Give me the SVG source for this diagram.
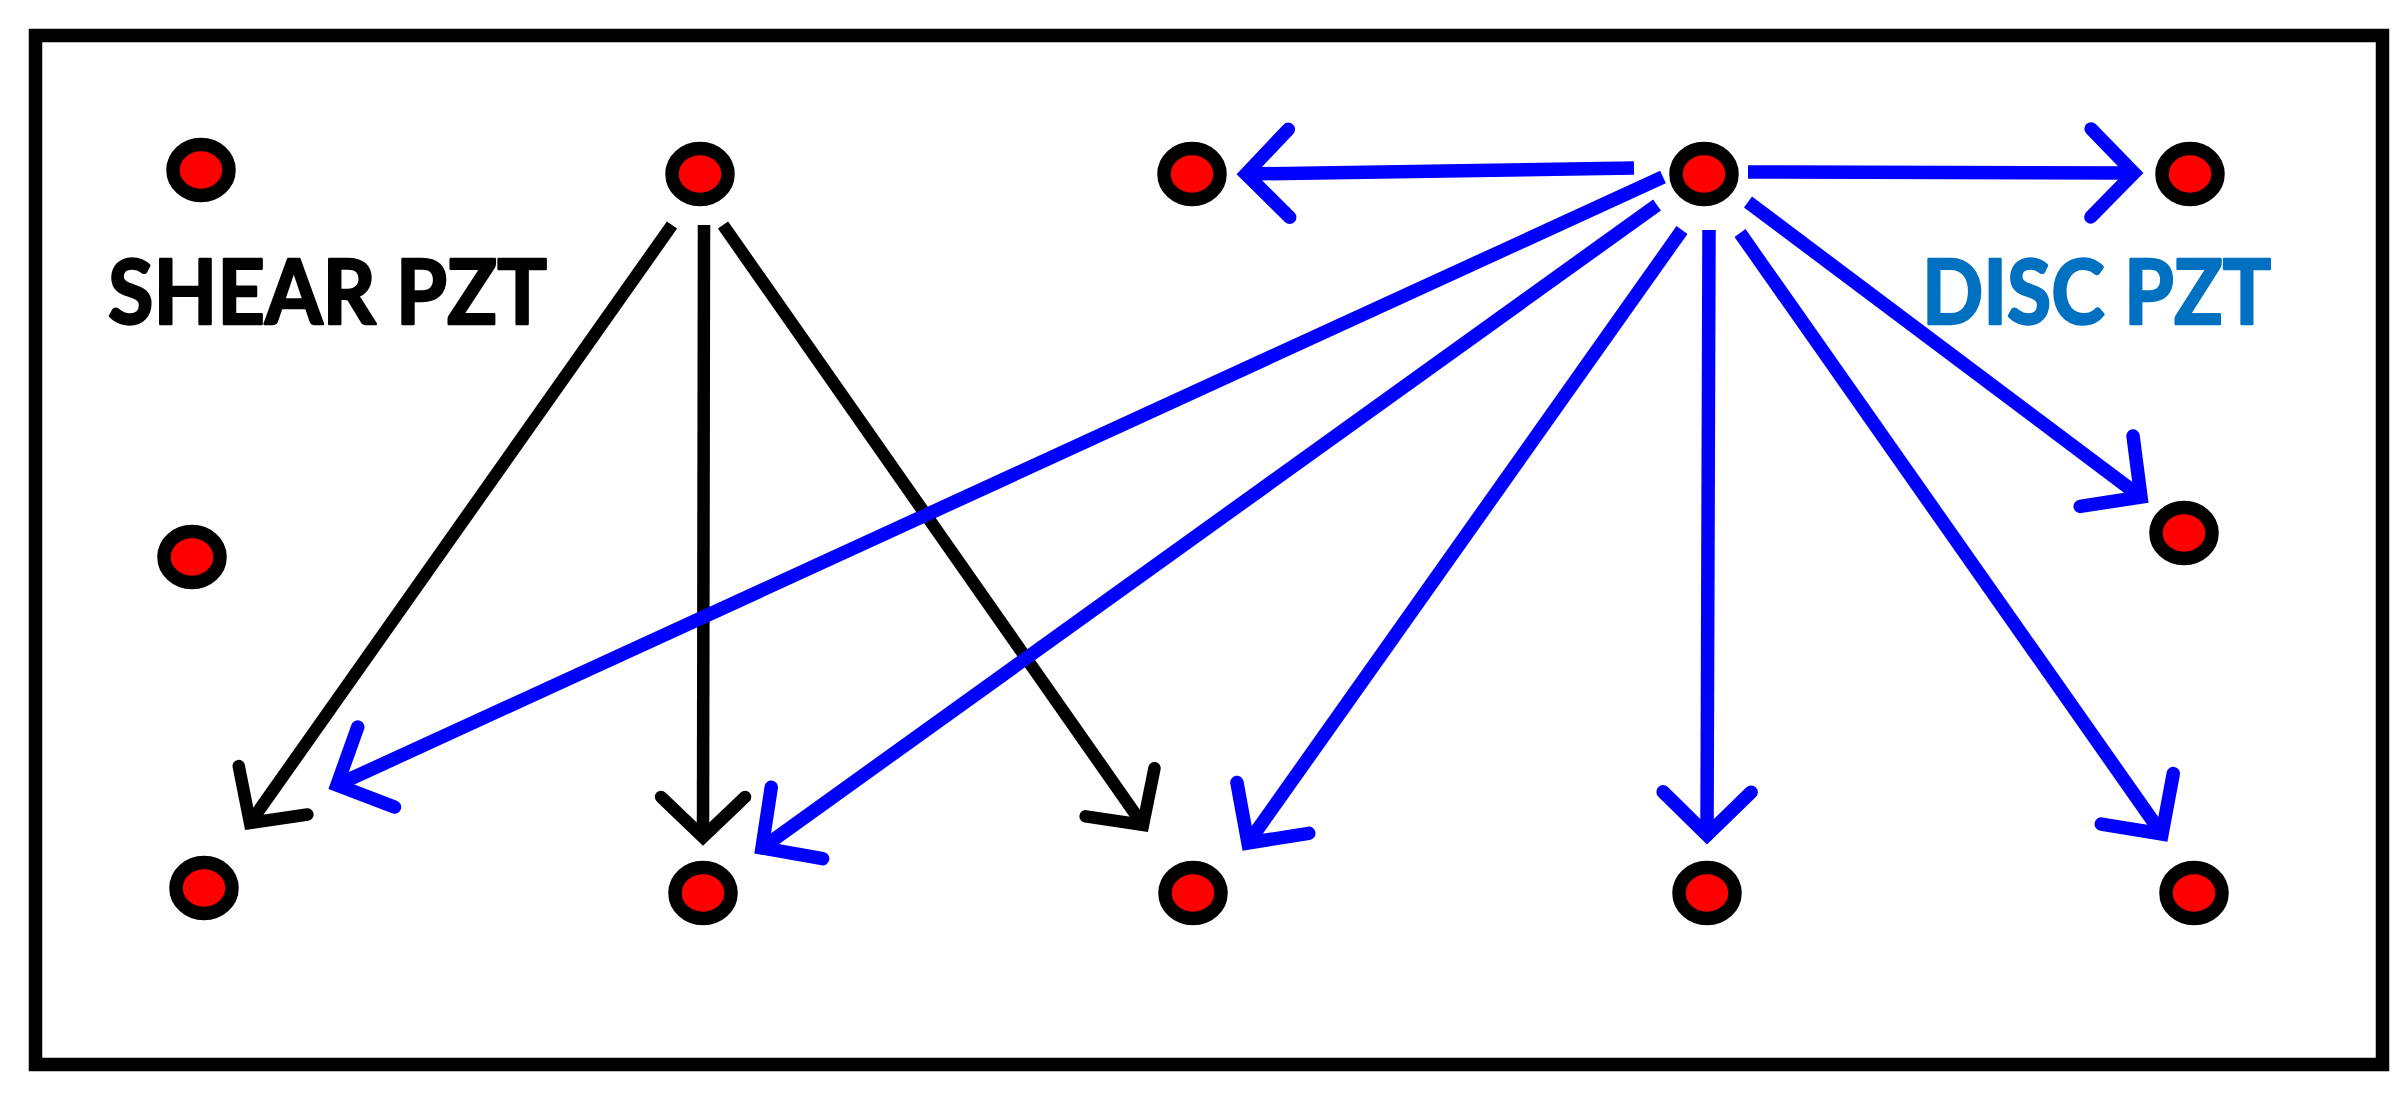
<svg xmlns="http://www.w3.org/2000/svg" width="2408" height="1102" viewBox="0 0 2408 1102">
  <style>
    .node { fill: #ff0000; stroke: #000000; stroke-width: 13.5; }
    .blk { fill: none; stroke: #000000; stroke-width: 12.5; stroke-linecap: butt; }
    .blu { fill: none; stroke: #0000ff; stroke-width: 13.5; stroke-linecap: butt; }
    .lbl { font-family: Lato, "Liberation Sans", sans-serif; font-weight: bold; font-size: 90px; stroke-width: 2.5; stroke-linejoin: round; }
  </style>
  <defs>
    <marker id="ahBlack" markerUnits="userSpaceOnUse" orient="auto" refX="0" refY="0" markerWidth="120" markerHeight="120" overflow="visible">
      <path d="M-40,-42 L0,0 L-40,42" fill="none" stroke="#000000" stroke-width="12.5" stroke-linecap="round" stroke-linejoin="miter" stroke-miterlimit="10"/>
    </marker>
    <marker id="ahBlue" markerUnits="userSpaceOnUse" orient="auto" refX="0" refY="0" markerWidth="120" markerHeight="120" overflow="visible">
      <path d="M-43,-44 L0,0 L-43,44" fill="none" stroke="#0000ff" stroke-width="13.5" stroke-linecap="round" stroke-linejoin="miter" stroke-miterlimit="10"/>
    </marker>
  </defs>
  <rect x="0" y="0" width="2408" height="1102" fill="#ffffff"/>
  <rect id="frame" x="35.5" y="35.5" width="2347" height="1029" fill="#ffffff" stroke="#000000" stroke-width="13.5"/>

  <g id="connectors">
    <line class="blk" x1="672" y1="225" x2="250" y2="823" marker-end="url(#ahBlack)"/>
    <line class="blk" x1="704" y1="225" x2="703" y2="837" marker-end="url(#ahBlack)"/>
    <line class="blk" x1="723" y1="225" x2="1143" y2="825" marker-end="url(#ahBlack)"/>
    <line class="blu" x1="1663" y1="177" x2="337" y2="785" marker-end="url(#ahBlue)"/>
    <line class="blu" x1="1657" y1="205" x2="762" y2="848" marker-end="url(#ahBlue)"/>
    <line class="blu" x1="1682" y1="230" x2="1248" y2="843" marker-end="url(#ahBlue)"/>
    <line class="blu" x1="1709" y1="230" x2="1707" y2="835" marker-end="url(#ahBlue)"/>
    <line class="blu" x1="1740" y1="233" x2="2162" y2="834" marker-end="url(#ahBlue)"/>
    <line class="blu" x1="1748" y1="202" x2="2141" y2="497" marker-end="url(#ahBlue)"/>
    <line class="blu" x1="1634" y1="168" x2="1246" y2="174" marker-end="url(#ahBlue)"/>
    <line class="blu" x1="1748" y1="172" x2="2134" y2="173" marker-end="url(#ahBlue)"/>
  </g>

  <g id="n1"><ellipse class="node" cx="201" cy="170" rx="28" ry="25.5"/></g>
  <g id="n2"><ellipse class="node" cx="700" cy="174" rx="28" ry="25.5"/></g>
  <g id="n3"><ellipse class="node" cx="1192" cy="174" rx="28" ry="25.5"/></g>
  <g id="n4"><ellipse class="node" cx="1704" cy="174" rx="28" ry="25.5"/></g>
  <g id="n5"><ellipse class="node" cx="2190" cy="174" rx="28" ry="25.5"/></g>
  <g id="n6"><ellipse class="node" cx="192" cy="557" rx="28" ry="25.5"/></g>
  <g id="n7"><ellipse class="node" cx="2184" cy="533" rx="28" ry="25.5"/></g>
  <g id="n8"><ellipse class="node" cx="204" cy="888" rx="28" ry="25.5"/></g>
  <g id="n9"><ellipse class="node" cx="703" cy="893" rx="28" ry="25.5"/></g>
  <g id="n10"><ellipse class="node" cx="1193" cy="893" rx="28" ry="25.5"/></g>
  <g id="n11"><ellipse class="node" cx="1707" cy="893" rx="28" ry="25.5"/></g>
  <g id="n12"><ellipse class="node" cx="2194" cy="893" rx="28" ry="25.5"/></g>

  <g id="label-shear"><text class="lbl" x="108" y="324" fill="#000000" stroke="#000000" textLength="439" lengthAdjust="spacingAndGlyphs">SHEAR PZT</text></g>
  <g id="label-disc"><text class="lbl" x="1922" y="324" fill="#0070C0" stroke="#0070C0" textLength="349" lengthAdjust="spacingAndGlyphs">DISC PZT</text></g>
</svg>
